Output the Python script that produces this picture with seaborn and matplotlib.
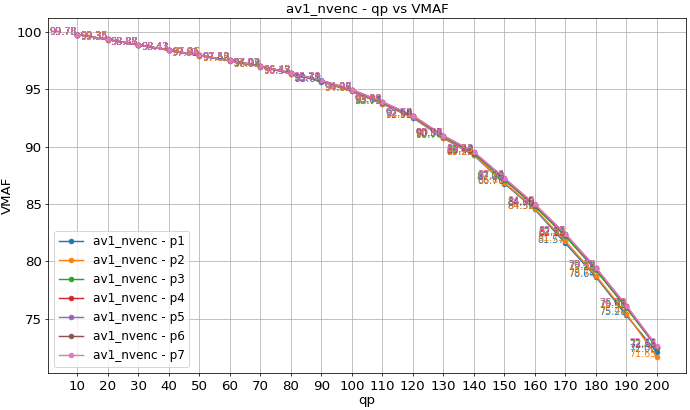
import pandas as pd
import numpy as np
import matplotlib
matplotlib.use('Agg')
import matplotlib.pyplot as plt
import seaborn as sns

qp = [10, 20, 30, 40, 50, 60, 70, 80, 90, 100,
      110, 120, 130, 140, 150, 160, 170, 180, 190, 200]

p1 = [99.78, 99.34, 98.87, 98.41, 97.93, 97.49, 96.98, 96.37, 95.68, 94.82,
      93.73, 92.52, 90.74, 89.25, 86.78, 84.52, 81.57, 78.64, 75.28, 72.05]
p2 = [99.78, 99.34, 98.87, 98.42, 97.94, 97.50, 96.99, 96.38, 95.70, 94.85,
      93.76, 92.55, 90.78, 89.28, 86.85, 84.58, 81.75, 78.75, 75.42, 71.65]
p3 = [99.78, 99.35, 98.88, 98.43, 97.96, 97.52, 97.02, 96.42, 95.75, 94.92,
      93.84, 92.64, 90.88, 89.40, 87.08, 84.78, 82.18, 79.20, 75.92, 72.45]
p4 = [99.78, 99.35, 98.88, 98.43, 97.96, 97.53, 97.03, 96.43, 95.77, 94.96,
      93.88, 92.68, 90.93, 89.48, 87.20, 84.90, 82.33, 79.38, 76.08, 72.52]
p5 = [99.78, 99.35, 98.88, 98.43, 97.96, 97.53, 97.03, 96.43, 95.77, 94.97,
      93.89, 92.69, 90.94, 89.50, 87.22, 84.93, 82.35, 79.40, 76.10, 72.54]
p6 = [99.78, 99.35, 98.88, 98.43, 97.96, 97.53, 97.03, 96.43, 95.78, 94.98,
      93.90, 92.70, 90.95, 89.52, 87.24, 84.95, 82.37, 79.42, 76.11, 72.56]
p7 = [99.78, 99.35, 98.88, 98.43, 97.96, 97.53, 97.03, 96.43, 95.78, 94.98,
      93.90, 92.71, 90.96, 89.55, 87.25, 84.97, 82.39, 79.43, 76.13, 72.58]

presets = ['p1', 'p2', 'p3', 'p4', 'p5', 'p6', 'p7']
series = [p1, p2, p3, p4, p5, p6, p7]
colors = sns.color_palette('tab10', 7)

plt.rcParams['font.size'] = 14

fig, ax = plt.subplots(figsize=(10, 410 / 69), dpi=69)

for name, vals, col in zip(presets, series, colors):
    df = pd.DataFrame({'qp': qp, 'VMAF': vals})
    sns.lineplot(data=df, x='qp', y='VMAF', ax=ax, color=col, marker='o',
                 markersize=5, markeredgecolor=col, linewidth=1.5,
                 label='av1_nvenc - ' + name)
    for x, y in zip(qp, vals):
        ax.text(x, y, f'{y:.2f}', color=col, fontsize=10, ha='right')

ax.set_xticks(qp)
ax.grid(True)
ax.set_title('av1_nvenc - qp vs VMAF', fontsize=14)
ax.set_xlabel('qp', labelpad=1)
ax.set_ylabel('VMAF', labelpad=2)
ax.legend(loc='lower left', fontsize=12.5)

plt.subplots_adjust(left=0.07, right=0.994, top=0.955, bottom=0.09)
plt.savefig('out.png', dpi=69)
